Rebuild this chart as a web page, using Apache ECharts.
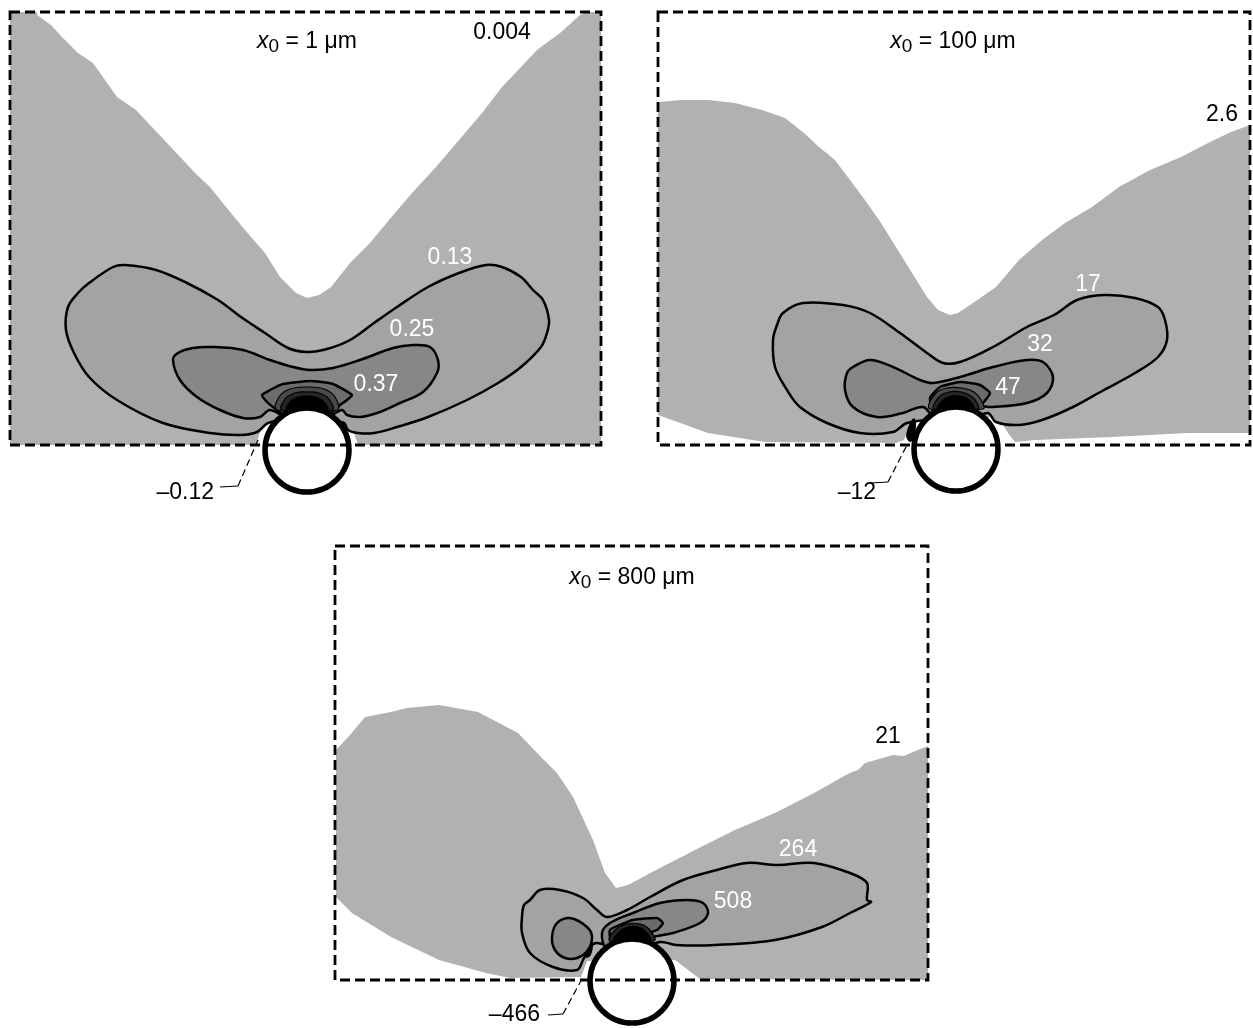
<!DOCTYPE html>
<html><head><meta charset="utf-8">
<script src="https://cdn.jsdelivr.net/npm/echarts@6/dist/echarts.min.js"></script>
<style>html,body{margin:0;padding:0;background:#fff}#c{width:1253px;height:1028px}</style>
</head><body><div id="c"></div>
<script>
// ---------- DATA (local units: offset from fibre centre, y up) ----------
// Panel 1: x0 = 1 um
const p1Box = [[-297,438],[294,438],[294,5],[-297,5]];
const p1Region = [[-297,5],[-297,438],[-270,438],[-270,435],[-256,425],[-245,413],[-229,397],[-214,387],[-202,370],[-190,353],[-171,340],[-155,323],[-140,307],[-124,290],[-112,277],[-97,263],[-81,243],[-62,220],[-42,197],[-27,173],[-11,157],[0,152],[12,155],[24,163],[43,187],[63,207],[82,230],[105,257],[129,283],[152,310],[175,337],[195,363],[214,383],[230,400],[253,417],[273,435],[281,438],[294,438],[294,5],[51,5],[48,14],[44,24],[-44,26],[-49,12],[-50,5]];
const p1Level1 = [[-241,120],[-239,143],[-229,157],[-218,167],[-194,183],[-182,185],[-151,180],[-120,167],[-89,150],[-66,133],[-42,117],[-19,102],[0,98],[20,101],[43,110],[67,127],[90,143],[121,163],[152,177],[179,185],[195,183],[214,173],[226,160],[236,150],[242,130],[240,117],[234,103],[214,83],[191,67],[160,50],[121,33],[90,23],[67,17],[51,17],[41,20],[37,27],[20,30],[-20,30],[-39,27],[-50,18],[-66,15],[-97,17],[-144,27],[-190,50],[-218,73],[-233,97]];
const p1Level2 = [[-134,90],[-129,97],[-114,102],[-94,103],[-64,100],[-37,90],[-14,83],[3,80],[26,82],[53,90],[86,102],[106,105],[123,103],[131,90],[130,77],[116,58],[93,47],[70,37],[53,33],[40,35],[35,40],[15,30],[-15,30],[-37,40],[-47,33],[-64,32],[-87,40],[-110,53],[-127,70]];
const p1Level3 = [[-45,55],[-37,60],[-24,66],[3,69],[26,66],[45,55],[40,50],[33,45],[15,30],[-15,30],[-34,43],[-40,48]];
const p1Core = [
  [[-30,40],[-28,53],[-17,61],[0,63],[17,61],[28,53],[30,40]],
  [[-25,40],[-22,51],[-12,57],[0,58],[12,57],[22,51],[25,40]],
  [[-20,40],[-17,48],[-8,53],[0,54],[8,53],[17,48],[20,40]]
];
const p1Leader = [[-87,-37],[-69,-36]];
const p1LeaderDash = [[-69,-36],[-49,10]];
const p1Labels = [
  {t:'0.004', at:[195,417], c:'#000'},
  {t:'0.13', at:[143,192], c:'#fff'},
  {t:'0.25', at:[105,120], c:'#fff'},
  {t:'0.37', at:[69,65], c:'#fff'}
];
const p1Neg = {t:'\u20130.12', at:[-93,-43]};
const p1Title = {x0:'1', at:[0,408]};

// Panel 2: x0 = 100 um
const p2Box = [[-298,437],[294,437],[294,4],[-298,4]];
const p2Region = [[-298,347],[-275,349],[-248,349],[-221,346],[-194,339],[-171,331],[-152,316],[-137,302],[-121,289],[-106,269],[-91,249],[-75,226],[-60,202],[-44,176],[-29,152],[-18,139],[-6,134],[2,136],[17,146],[40,162],[63,189],[86,209],[109,226],[136,242],[163,262],[194,279],[225,292],[252,306],[275,317],[294,324],[294,16],[232,16],[156,12],[79,9],[59,7],[52,16],[42,32],[-44,29],[-52,9],[-60,6],[-191,7],[-248,16],[-298,34]];
const p2Level1 = [[-183,109],[-179,124],[-173,136],[-153,146],[-113,144],[-86,136],[-56,116],[-29,96],[-13,86],[4,87],[37,102],[71,122],[98,134],[121,149],[148,154],[179,151],[202,142],[209,129],[211,109],[202,92],[179,76],[148,59],[117,42],[86,29],[63,24],[40,27],[32,36],[15,30],[-15,30],[-49,26],[-63,17],[-96,16],[-129,26],[-156,42],[-169,59],[-181,82]];
const p2Level2 = [[-111,59],[-109,76],[-103,82],[-86,89],[-63,82],[-36,69],[-23,66],[4,72],[37,82],[71,89],[87,87],[97,72],[91,56],[71,46],[37,42],[17,42],[10,30],[-20,30],[-33,42],[-53,36],[-79,32],[-103,42]];
const p2Level3 = [[-26,51],[-16,62],[4,67],[24,64],[34,56],[27,46],[10,30],[-20,30]];
const p2Core = [
  [[-26,40],[-21,55],[-9,61],[6,61],[18,57],[25,49],[27,40]],
  [[-22,40],[-17,52],[-7,57],[5,57],[15,53],[21,46],[22,40]],
  [[-18,40],[-13,49],[-5,53],[4,53],[12,50],[17,44],[18,40]]
];
const p2Bump = [[-42,30],[-47,22],[-49,12],[-45,8],[-41,20]];
const p2Leader = [[-86,-34],[-68,-33]];
const p2LeaderDash = [[-68,-33],[-48,6]];
const p2Labels = [
  {t:'2.6', at:[266,334], c:'#000'},
  {t:'17', at:[132,164], c:'#fff'},
  {t:'32', at:[84,104], c:'#fff'},
  {t:'47', at:[52,61], c:'#fff'}
];
const p2Neg = {t:'\u201312', at:[-80,-44]};
const p2Title = {x0:'100', at:[-3,407]};

// Panel 3: x0 = 800 um
const p3Box = [[-297,435],[296,435],[296,1],[-297,1]];
const p3Region = [[-296,231],[-282,246],[-267,264],[-241,269],[-225,273],[-193,276],[-154,269],[-114,248],[-91,224],[-75,208],[-59,184],[-39,141],[-27,108],[-16,93],[-4,96],[24,111],[63,131],[103,151],[143,168],[182,188],[214,206],[220,209],[226,211],[233,218],[261,226],[272,225],[281,229],[296,235],[296,1],[68,2],[43,21],[-45,20],[-51,4],[-122,3],[-146,8],[-193,21],[-241,44],[-280,68],[-296,84]];
const p3Level1 = [[-110,64],[-108,76],[-102,81],[-92,91],[-72,91],[-49,83],[-35,71],[-25,64],[-5,71],[18,84],[51,101],[85,111],[115,118],[146,116],[182,118],[218,108],[235,98],[235,81],[239,79],[218,68],[190,54],[143,41],[83,36],[44,36],[28,39],[0,30],[-35,38],[-42,34],[-49,21],[-55,11],[-79,14],[-102,28],[-110,48]];
const p3Level2a = [[-80,44],[-75,58],[-62,63],[-45,54],[-40,44],[-44,31],[-55,23],[-67,23],[-77,31]];
const p3Level2b = [[-30,48],[-22,58],[1,68],[28,78],[55,81],[71,78],[76,68],[68,58],[41,48],[18,43],[0,30],[-25,32]];
const p3Level3 = [[-22,51],[1,61],[25,63],[31,58],[25,51],[11,46],[0,30],[-20,36]];
const p3Core = [
  [[-22,40],[-17,51],[-5,57],[8,57],[17,52],[22,40]],
  [[-18,40],[-13,49],[-4,54],[6,54],[14,49],[18,40]]
];
const p3Bump = [[-40,36],[-45,30],[-46,24],[-42,26]];
const p3Leader = [[-84,-34],[-69,-33]];
const p3LeaderDash = [[-69,-33],[-49,4]];
const p3Labels = [
  {t:'21', at:[256,244], c:'#000'},
  {t:'264', at:[166,131], c:'#fff'},
  {t:'508', at:[101,79], c:'#fff'}
];
const p3Neg = {t:'\u2013466', at:[-92,-34]};
const p3Title = {x0:'800', at:[0,403]};

const fibreRadius = 42;

// ---------- LAYOUT / STYLE ----------
const FONT = '"Liberation Sans", Arial, Helvetica, sans-serif';
const FS = 23;
const G0 = '#b1b1b1', G1 = '#a3a3a3', G2 = '#878787', G3 = '#6c6c6c';
const CORE = ['#4a4a4a', '#262626', '#000000'];
const panels = [
  {grid:{left:0, top:0, width:620, height:520}, x:[-307,313], y:[-70,450]},
  {grid:{left:640, top:0, width:613, height:520}, x:[-316,297], y:[-71,449]},
  {grid:{left:320, top:530, width:620, height:498}, x:[-312,308], y:[-47,451]}
];

const series = [];
function custom(gi, fn, z) {
  series.push({type:'custom', coordinateSystem:'cartesian2d', xAxisIndex:gi, yAxisIndex:gi,
    data:[[0,0]], silent:true, animation:false, clip:false, z:z||2,
    renderItem:(params, api) => fn(api)});
}
function poly(gi, pts, style, smooth) {
  custom(gi, api => ({type:'polygon', shape:{points:pts.map(p => api.coord(p)), smooth:smooth||0}, style:style}));
}
function line(gi, pts, style) {
  custom(gi, api => ({type:'polyline', shape:{points:pts.map(p => api.coord(p))}, style:Object.assign({fill:null}, style)}));
}
function circle(gi) {
  custom(gi, api => {
    const c = api.coord([0,0]);
    const r = api.size([fibreRadius, 0])[0];
    return {type:'circle', shape:{cx:c[0], cy:c[1], r:r}, style:{fill:'#fff', stroke:'#000', lineWidth:5.5}};
  });
}
function text(gi, lab, align) {
  custom(gi, api => {
    const p = api.coord(lab.at);
    return {type:'text', x:p[0], y:p[1], style:{text:lab.t, fill:lab.c||'#000', font:FS + 'px ' + FONT, align:align||'center', verticalAlign:'middle'}};
  });
}
function title(gi, tt) {
  custom(gi, api => {
    const p = api.coord(tt.at);
    return {type:'text', x:p[0], y:p[1], style:{
      text:'{i|x}{s|0}{n| = ' + tt.x0 + ' \u03bcm}', align:'center', verticalAlign:'middle',
      rich:{
        i:{fontStyle:'italic', fontSize:FS, fontFamily:FONT, fill:'#000', lineHeight:28, verticalAlign:'middle'},
        s:{fontSize:19, fontFamily:FONT, fill:'#000', lineHeight:16, verticalAlign:'bottom'},
        n:{fontSize:FS, fontFamily:FONT, fill:'#000', lineHeight:28, verticalAlign:'middle'}
      }}};
  });
}

const contourStroke = {stroke:'#000', lineWidth:2.5, lineJoin:'round'};
function panel(gi, d) {
  poly(gi, d.region, {fill:G0}, 0);
  d.l1.forEach(p => poly(gi, p, Object.assign({fill:G1}, contourStroke), 0.35));
  d.l2.forEach(p => poly(gi, p, Object.assign({fill:G2}, contourStroke), 0.35));
  d.l3.forEach(p => poly(gi, p, Object.assign({fill:G3}, contourStroke), 0.15));
  d.core.forEach((p, i) => poly(gi, p, {fill:CORE[i + (3 - d.core.length)], stroke:'#000', lineWidth:1.2}, 0.4));
  if (d.bump) poly(gi, d.bump, {fill:'#000', stroke:'#000', lineWidth:1.5}, 0.4);
  circle(gi);
  poly(gi, d.box, {fill:null, stroke:'#000', lineWidth:2.8, lineDash:[10,5]}, 0);
  line(gi, d.leader, {stroke:'#000', lineWidth:1.2});
  line(gi, d.leaderDash, {stroke:'#000', lineWidth:1.2, lineDash:[7,4]});
  d.labels.forEach(l => text(gi, l));
  text(gi, Object.assign({c:'#000'}, d.neg), 'right');
  title(gi, d.title);
}

panel(0, {region:p1Region, l1:[p1Level1], l2:[p1Level2], l3:[p1Level3], core:p1Core, box:p1Box,
  leader:p1Leader, leaderDash:p1LeaderDash, labels:p1Labels, neg:p1Neg, title:p1Title});
panel(1, {region:p2Region, l1:[p2Level1], l2:[p2Level2], l3:[p2Level3], core:p2Core, bump:p2Bump, box:p2Box,
  leader:p2Leader, leaderDash:p2LeaderDash, labels:p2Labels, neg:p2Neg, title:p2Title});
panel(2, {region:p3Region, l1:[p3Level1], l2:[p3Level2a, p3Level2b], l3:[p3Level3], core:p3Core, bump:p3Bump, box:p3Box,
  leader:p3Leader, leaderDash:p3LeaderDash, labels:p3Labels, neg:p3Neg, title:p3Title});

const chart = echarts.init(document.getElementById('c'), null, {renderer:'canvas'});
chart.setOption({
  animation:false,
  grid: panels.map(p => Object.assign({containLabel:false, show:false}, p.grid)),
  xAxis: panels.map((p, i) => ({type:'value', gridIndex:i, min:p.x[0], max:p.x[1], show:false})),
  yAxis: panels.map((p, i) => ({type:'value', gridIndex:i, min:p.y[0], max:p.y[1], show:false})),
  series: series
});
</script></body></html>
